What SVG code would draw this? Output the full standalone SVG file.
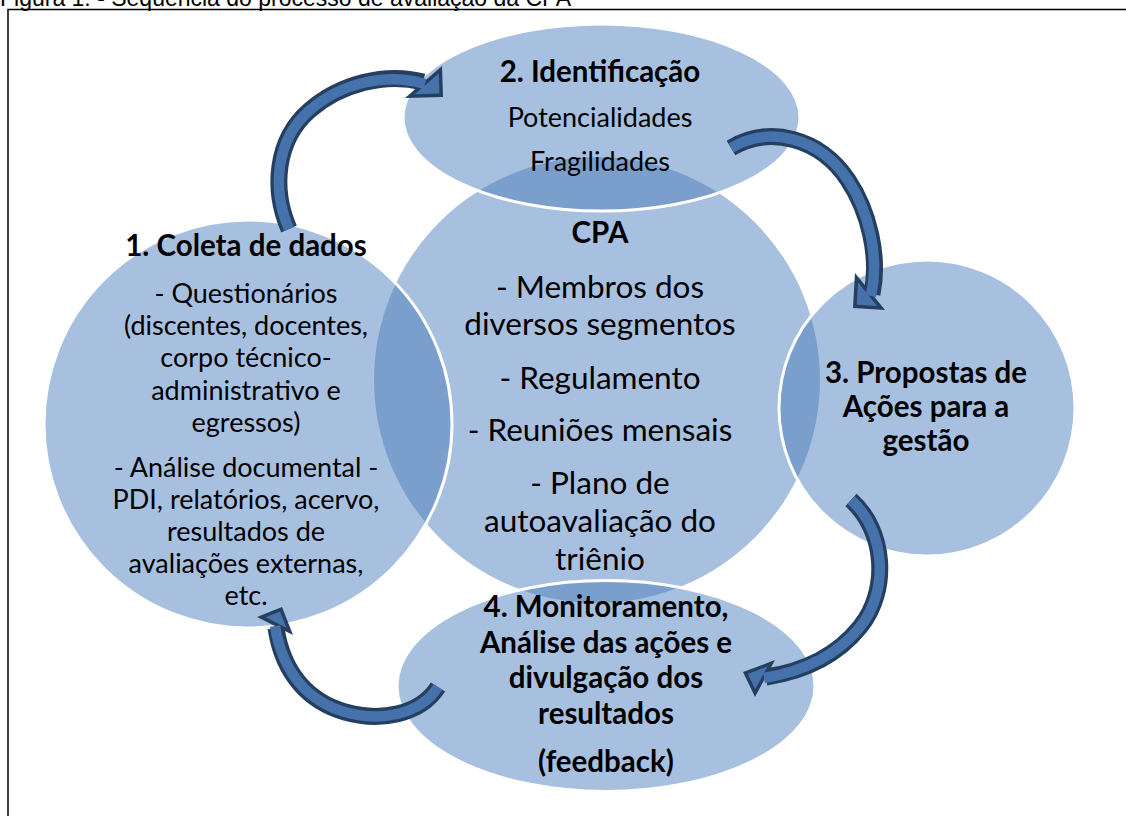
<svg xmlns="http://www.w3.org/2000/svg" width="1126" height="816" viewBox="0 0 1126 816">
<style>
.cap{font-family:"Liberation Sans",Arial,sans-serif;font-size:23px;fill:#000}
.t{font-family:Lato,"Open Sans",sans-serif;fill:#000;text-anchor:middle}
.b{font-weight:bold;font-size:29.5px}
.r{font-size:27px}
.rc{font-size:31.5px}
.lite{fill:#A8C0DF}
.dark{fill:#7B9FCC}
.edge{fill:none;stroke:#fff;stroke-width:3}
.bo{fill:none;stroke:#243F60;stroke-width:17}
.bi{fill:none;stroke:#4672AB;stroke-width:10.5}
.ho{fill:#243F60}
.hi{fill:#4672AB}
</style>
<defs>
<clipPath id="cc"><circle cx="597" cy="380" r="223"/></clipPath>
</defs>
<rect x="0" y="0" width="1126" height="816" fill="#fff"/>
<text class="cap" x="0" y="6">Figura 1: - Sequência do processo de avaliação da CPA</text>
<rect x="8" y="9.5" width="1130" height="820" fill="none" stroke="#000" stroke-width="1.5"/>

<g id="node-cpa">
<circle class="lite" cx="597" cy="380" r="223"/>
</g>

<g id="node-coleta">
<circle class="lite" cx="248" cy="424" r="204"/>
<circle class="dark" cx="248" cy="424" r="204" clip-path="url(#cc)"/>
<circle class="edge" cx="248" cy="424" r="204"/>
</g>
<g id="node-identificacao">
<ellipse class="lite" cx="601.5" cy="117.5" rx="198.5" ry="93.5"/>
<ellipse class="dark" cx="601.5" cy="117.5" rx="198.5" ry="93.5" clip-path="url(#cc)"/>
<ellipse class="edge" cx="601.5" cy="117.5" rx="198.5" ry="93.5"/>
</g>
<g id="node-propostas">
<circle class="lite" cx="927" cy="408" r="148"/>
<circle class="dark" cx="927" cy="408" r="148" clip-path="url(#cc)"/>
<circle class="edge" cx="927" cy="408" r="148"/>
</g>
<g id="node-monitoramento">
<ellipse class="lite" cx="606" cy="686" rx="209" ry="105.5"/>
<ellipse class="dark" cx="606" cy="686" rx="209" ry="105.5" clip-path="url(#cc)"/>
<ellipse class="edge" cx="606" cy="686" rx="209" ry="105.5"/>
</g>

<g id="connectors">
<g id="arrow1">
<path class="bo" d="M289,229 C272,190 275,140 310,110 C340,84 385,72 423,82"/>
<polygon class="ho" points="442,66 443,97 405,98"/>
<path class="bi" d="M289,229 C272,190 275,140 310,110 C340,84 385,72 425,84"/>
<polygon class="hi" points="438.7,73.5 439.4,93.6 414.7,94.3"/>
</g>
<g id="arrow2">
<path class="bo" d="M731,148 C770,125 820,138 848,180 C868,210 880,255 872,294"/>
<polygon class="ho" points="855,273 853,308 885,310"/>
<path class="bi" d="M731,148 C770,125 820,138 848,180 C868,210 880,255 871,296"/>
<polygon class="hi" points="858,282.3 856.7,304.7 877.2,306"/>
</g>
<g id="arrow3">
<path class="bo" d="M851,500 C885,530 890,590 860,627 C835,658 800,672 766,677"/>
<polygon class="ho" points="775,660 743,672 755,697"/>
<path class="bi" d="M851,500 C885,530 890,590 860,627 C835,658 800,672 764,678"/>
<polygon class="hi" points="767.5,666.5 747.8,673.9 755.2,689.3"/>
</g>
<g id="arrow4">
<path class="bo" d="M438,687 C420,715 380,722 345,712 C310,702 283,675 276,628"/>
<polygon class="ho" points="257,617 282,607 293,635"/>
<path class="bi" d="M438,687 C420,715 380,722 345,712 C310,702 283,675 275,626"/>
<polygon class="hi" points="265.5,617.3 280,611.5 286.4,627.8"/>
</g>
</g>

<g id="text-identificacao">
<text class="t b" x="600" y="82">2. Identificação</text>
<text class="t r" x="600" y="127">Potencialidades</text>
<text class="t r" x="600" y="171">Fragilidades</text>
</g>
<g id="text-cpa">
<text class="t b" x="600" y="243">CPA</text>
<text class="t rc" x="600" y="298">- Membros dos</text>
<text class="t rc" x="600" y="335">diversos segmentos</text>
<text class="t rc" x="600" y="389">- Regulamento</text>
<text class="t rc" x="600" y="441">- Reuniões mensais</text>
<text class="t rc" x="600" y="494">- Plano de</text>
<text class="t rc" x="600" y="532">autoavaliação do</text>
<text class="t rc" x="600" y="570">triênio</text>
</g>
<g id="text-coleta">
<text class="t b" x="246" y="256">1. Coleta de dados</text>
<text class="t r" x="246" y="303">- Questionários</text>
<text class="t r" x="246" y="335">(discentes, docentes,</text>
<text class="t r" x="246" y="367">corpo técnico-</text>
<text class="t r" x="246" y="400">administrativo e</text>
<text class="t r" x="246" y="432">egressos)</text>
<text class="t r" x="246" y="477">- Análise documental -</text>
<text class="t r" x="246" y="509">PDI, relatórios, acervo,</text>
<text class="t r" x="246" y="541">resultados de</text>
<text class="t r" x="246" y="573">avaliações externas,</text>
<text class="t r" x="246" y="605">etc.</text>
</g>
<g id="text-propostas">
<text class="t b" x="926" y="383">3. Propostas de</text>
<text class="t b" x="926" y="417">Ações para a</text>
<text class="t b" x="926" y="451">gestão</text>
</g>
<g id="text-monitoramento">
<text class="t b" x="606" y="617">4. Monitoramento,</text>
<text class="t b" x="606" y="653">Análise das ações e</text>
<text class="t b" x="606" y="688">divulgação dos</text>
<text class="t b" x="606" y="724">resultados</text>
<text class="t b" x="606" y="772">(feedback)</text>
</g>
</svg>
